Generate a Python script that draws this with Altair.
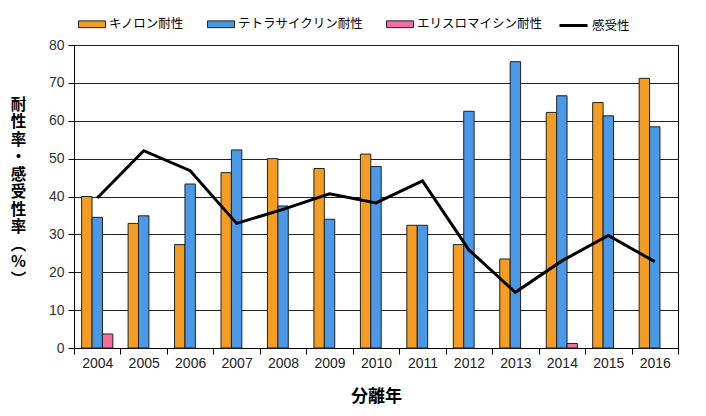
import altair as alt
import pandas as pd

years = [str(y) for y in range(2004, 2017)]
quinolone = [40.0, 32.9, 27.3, 46.3, 50.0, 47.4, 51.2, 32.4, 27.3, 23.5, 62.2, 64.8, 71.2]
tetracycline = [34.5, 34.9, 43.3, 52.3, 37.5, 34.0, 47.9, 32.4, 62.5, 75.6, 66.6, 61.3, 58.4]
erythromycin = [3.7, 0, 0, 0, 0, 0, 0, 0, 0, 0, 1.2, 0, 0]
susceptible = [39.6, 52.1, 46.8, 32.9, 36.6, 40.7, 38.3, 44.1, 25.9, 14.7, 23.0, 29.7, 22.8]

bar_series = ["キノロン耐性", "テトラサイクリン耐性", "エリスロマイシン耐性"]
line_series = ["感受性"]
bar_colors = ["#F59D22", "#4A98E8", "#EE6FA0"]
y_ticks = [0, 10, 20, 30, 40, 50, 60, 70, 80]
y_title = ["耐", "性", "率", "・", "感", "受", "性", "率", "︵", "%", "︶"]
x_title = "分離年"

rows = []
for i, yr in enumerate(years):
    for s, vals in zip(bar_series, [quinolone, tetracycline, erythromycin]):
        rows.append({"year": yr, "series": s, "value": vals[i]})
bars_df = pd.DataFrame(rows)
line_df = pd.DataFrame({"year": years, "series": line_series[0], "value": susceptible})

JP = "Noto Sans CJK JP"
NUM = "Liberation Sans"

x_axis = alt.Axis(
    title=x_title,
    labelAngle=0,
    labelFont=NUM,
    labelFontSize=14,
    labelColor="#222",
    labelPadding=2,
    tickBand="extent",
    tickSize=6,
    tickColor="#000",
    domainColor="#000",
    grid=False,
    titleFont=JP,
    titleFontSize=17,
    titleFontWeight="bold",
    titleColor="#000",
    titleY=48,
    titleBaseline="middle",
)
x_scale = alt.Scale(domain=years, paddingInner=0, paddingOuter=0)

y_axis = alt.Axis(
    values=y_ticks,
    tickCount=9,
    labelOverlap=False,
    title=y_title,
    titleAngle=0,
    titleX=-56,
    titleY=52,
    titleAlign="center",
    titleBaseline="top",
    titleLineHeight=17.5,
    titleFont=JP,
    titleFontSize=15.5,
    titleFontWeight="bold",
    titleColor="#000",
    labelFont=NUM,
    labelFontSize=14,
    labelColor="#333",
    labelPadding=4,
    tickSize=6,
    tickColor="#000",
    domainColor="#000",
    grid=True,
    gridColor="#222",
    gridWidth=1,
)
y_scale = alt.Scale(domain=[0, 80], nice=False)

bars = (
    alt.Chart(bars_df)
    .transform_filter("datum.value > 0")
    .mark_bar(stroke="#222", strokeWidth=1)
    .encode(
        x=alt.X("year:N", sort=years, scale=x_scale, axis=x_axis),
        y=alt.Y("value:Q", scale=y_scale, axis=y_axis),
        xOffset=alt.XOffset(
            "series:N",
            sort=bar_series,
            scale=alt.Scale(domain=bar_series, paddingInner=0, paddingOuter=0.733),
        ),
        fill=alt.Fill(
            "series:N",
            sort=bar_series,
            scale=alt.Scale(domain=bar_series, range=bar_colors),
            legend=alt.Legend(
                title=None,
                orient="none",
                legendX=4,
                legendY=-35,
                direction="horizontal",
                symbolType="M-1,-0.25H1V0.25H-1Z",
                symbolSize=729,
                symbolStrokeColor="#222",
                symbolStrokeWidth=1,
                labelFont=JP,
                labelFontSize=12.5,
                labelColor="#000",
                labelOffset=3,
                columnPadding=20,
                padding=0,
            ),
        ),
    )
)

line = (
    alt.Chart(line_df)
    .mark_line(strokeWidth=3)
    .encode(
        x=alt.X("year:N", sort=years, scale=x_scale, axis=x_axis),
        y=alt.Y("value:Q", scale=y_scale, axis=y_axis),
        stroke=alt.Stroke(
            "series:N",
            scale=alt.Scale(domain=line_series, range=["#000000"]),
            legend=alt.Legend(
                title=None,
                orient="none",
                legendX=484,
                legendY=-35,
                direction="horizontal",
                symbolType="stroke",
                symbolSize=784,
                symbolStrokeWidth=3,
                labelFont=JP,
                labelFontSize=12.5,
                labelColor="#000",
                labelOffset=3,
                padding=0,
            ),
        ),
    )
)

chart = (
    alt.layer(bars, line)
    .resolve_legend(fill="independent", stroke="independent")
    .properties(
        width=604,
        height=303,
        autosize=alt.AutoSizeParams(type="none"),
        padding={"left": 74, "top": 45, "right": 28, "bottom": 68},
        background="#ffffff",
    )
    .configure_view(stroke="#000", strokeWidth=1)
)

chart.save("out.html", embed_options={"renderer": "svg", "actions": False})
